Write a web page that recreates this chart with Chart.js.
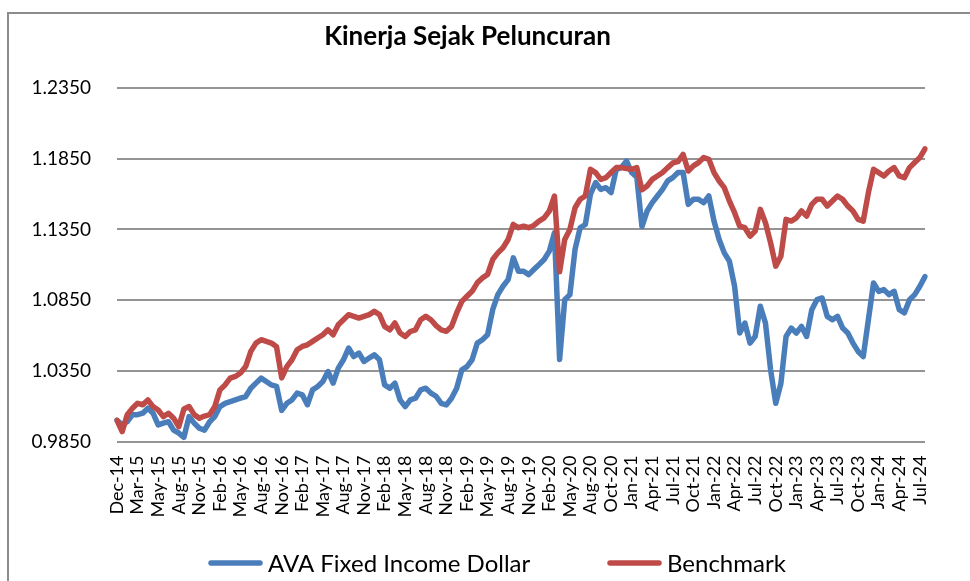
<!DOCTYPE html>
<html><head><meta charset="utf-8">
<script src="https://cdn.jsdelivr.net/npm/chart.js@4.4.1/dist/chart.umd.min.js"></script>
<style>html,body{margin:0;padding:0;background:#fff;overflow:hidden}#wrap{position:relative;width:970px;height:581px}</style>
</head><body><div id="wrap"><canvas id="c"></canvas></div>
<script>
const tickLabels = ['Dec-14','Mar-15','May-15','Aug-15','Nov-15','Feb-16','May-16','Aug-16','Nov-16','Feb-17',
  'May-17','Aug-17','Nov-17','Feb-18','May-18','Aug-18','Nov-18','Feb-19','May-19','Aug-19',
  'Nov-19','Feb-20','May-20','Aug-20','Oct-20','Jan-21','Apr-21','Jul-21','Oct-21','Jan-22',
  'Apr-22','Jul-22','Oct-22','Jan-23','Apr-23','Jul-23','Oct-23','Jan-24','Apr-24','Jul-24'];

const fundValues = [
  1.000,0.997,0.999,1.004,1.004,1.005,1.0085,1.005,0.9967,0.998,
  0.999,0.993,0.991,0.988,1.0026,0.998,0.9944,0.993,0.999,1.0026,
  1.0097,1.012,1.0132,1.0144,1.0156,1.0168,1.0227,1.0263,1.0298,1.0274,
  1.025,1.024,1.007,1.012,1.0144,1.0192,1.018,1.011,1.0215,1.0239,
  1.0274,1.0345,1.0263,1.0369,1.0428,1.0511,1.0451,1.0475,1.0416,1.044,
  1.0463,1.0428,1.025,1.0227,1.0263,1.0144,1.0097,1.0144,1.0156,1.0215,
  1.0227,1.0192,1.017,1.012,1.0109,1.0156,1.0227,1.0357,1.038,1.0428,
  1.0546,1.057,1.0605,1.0782,1.0889,1.0948,1.0995,1.1149,1.1054,1.1054,
  1.103,1.1066,1.1101,1.1137,1.1196,1.1326,1.043,1.0853,1.0889,1.1208,
  1.1362,1.1385,1.160,1.1681,1.1633,1.1645,1.161,1.1775,1.1787,1.1834,
  1.1752,1.172,1.137,1.148,1.1539,1.1586,1.1633,1.1693,1.1716,1.1752,
  1.1752,1.1527,1.1563,1.1563,1.1539,1.1586,1.1409,1.1279,1.1184,1.1125,
  1.0948,1.0617,1.0688,1.0546,1.0593,1.0806,1.0688,1.0357,1.012,1.026,
  1.0593,1.0652,1.0617,1.0664,1.0593,1.0782,1.0853,1.0865,1.0735,1.0711,
  1.0735,1.0652,1.0617,1.0546,1.0487,1.0451,1.0711,1.0971,1.0912,1.0924,
  1.0889,1.0912,1.0782,1.076,1.0853,1.0889,1.0948,1.1016];

const benchmarkValues = [
  1.000,0.992,1.004,1.0085,1.012,1.011,1.0144,1.0097,1.0073,1.0026,
  1.005,1.0015,0.9955,1.008,1.0097,1.004,1.0015,1.003,1.004,1.0097,
  1.0215,1.025,1.0298,1.031,1.0334,1.038,1.0487,1.0546,1.057,1.0558,
  1.0546,1.052,1.030,1.038,1.0428,1.0499,1.0522,1.0534,1.0558,1.0582,
  1.0605,1.064,1.0605,1.0676,1.0711,1.0747,1.0735,1.0723,1.0735,1.0747,
  1.077,1.0747,1.0664,1.064,1.0688,1.0617,1.0593,1.0628,1.064,1.0711,
  1.0735,1.0711,1.067,1.064,1.0629,1.0664,1.0759,1.0841,1.0877,1.0912,
  1.0972,1.1007,1.1031,1.1137,1.1184,1.122,1.1279,1.1385,1.1362,1.1373,
  1.1362,1.1378,1.1409,1.1432,1.148,1.1586,1.105,1.1279,1.135,1.1503,
  1.1563,1.1586,1.1775,1.1752,1.1704,1.1716,1.1752,1.1787,1.1787,1.178,
  1.1775,1.1787,1.163,1.1657,1.1704,1.1728,1.1752,1.1787,1.182,1.183,
  1.188,1.1763,1.1799,1.1822,1.1858,1.1846,1.1752,1.1692,1.1645,1.155,
  1.1468,1.1373,1.1362,1.1302,1.1338,1.1492,1.1397,1.1255,1.109,1.116,
  1.1421,1.1409,1.1432,1.148,1.1444,1.1527,1.1563,1.1563,1.1515,1.1551,
  1.1586,1.1563,1.1515,1.148,1.1421,1.1409,1.161,1.1775,1.1752,1.1728,
  1.1763,1.1787,1.1728,1.1716,1.1787,1.1823,1.1858,1.192];

const yTicks = [0.985, 1.035, 1.085, 1.135, 1.185, 1.235];
const seriesNames = ['AVA Fixed Income Dollar', 'Benchmark'];
const seriesColors = ['#4A7EBB', '#BE4B48'];
const chartTitle = 'Kinerja Sejak Peluncuran';

const POINTS_PER_LABEL = 4;
const categories = fundValues.map((_, i) =>
  i % POINTS_PER_LABEL === 0 ? (tickLabels[i / POINTS_PER_LABEL] || '') : '');

const FONT = 'Lato';

const framePlugin = {
  id: 'frame',
  beforeDraw(chart) {
    const ctx = chart.ctx;
    ctx.save();
    ctx.fillStyle = '#fff';
    ctx.fillRect(0, 0, chart.width, chart.height);
    ctx.strokeStyle = '#8c8c8c';
    ctx.lineWidth = 2;
    ctx.strokeRect(8, 13, chart.width + 20, chart.height + 20);
    ctx.restore();
  }
};

const lineLegendPlugin = {
  id: 'lineLegend',
  afterDraw(chart, args, opts) {
    const ctx = chart.ctx;
    ctx.save();
    ctx.font = opts.fontSize + 'px ' + FONT;
    ctx.textBaseline = 'middle';
    chart.data.datasets.forEach((ds, i) => {
      const x = opts.starts[i];
      ctx.strokeStyle = ds.borderColor;
      ctx.lineWidth = 5.5;
      ctx.lineCap = 'round';
      ctx.beginPath();
      ctx.moveTo(x + 3, opts.y);
      ctx.lineTo(x + opts.swatch - 3, opts.y);
      ctx.stroke();
      ctx.fillStyle = '#000';
      ctx.fillText(ds.label, x + opts.swatch + 5, opts.y + 1);
    });
    ctx.restore();
  }
};

new Chart(document.getElementById('c'), {
  type: 'line',
  data: {
    labels: categories,
    datasets: [
      { label: seriesNames[0], data: fundValues, borderColor: seriesColors[0], backgroundColor: seriesColors[0], order: 1 },
      { label: seriesNames[1], data: benchmarkValues, borderColor: seriesColors[1], backgroundColor: seriesColors[1], order: 0 }
    ]
  },
  options: {
    responsive: true,
    maintainAspectRatio: false,
    animation: false,
    layout: { padding: { left: 10, right: 45, top: 0, bottom: 0 } },
    elements: {
      point: { radius: 0, hoverRadius: 0 },
      line: { borderWidth: 5.5, tension: 0, borderJoinStyle: 'round', borderCapStyle: 'round', fill: false }
    },
    plugins: {
      legend: { display: false },
      tooltip: { enabled: false },
      title: {
        display: true,
        text: chartTitle,
        color: '#000',
        font: { family: FONT, size: 26, weight: 'bold' },
        padding: { top: 21.4, bottom: 35.4 }
      },
      lineLegend: { y: 563, starts: [208, 607], swatch: 55, fontSize: 24 }
    },
    scales: {
      x: {
        type: 'category',
        offset: false,
        grid: { display: false, drawTicks: false },
        border: { display: false },
        ticks: {
          autoSkip: false, maxRotation: 90, minRotation: 90, padding: 14,
          color: '#000', font: { family: FONT, size: 18 }
        },
        afterFit(scale) { scale.height = 139.5; }
      },
      y: {
        min: yTicks[0],
        max: yTicks[yTicks.length - 1],
        grid: { color: '#949494', lineWidth: 2, drawTicks: false },
        border: { display: false },
        ticks: {
          padding: 26, color: '#000', font: { family: FONT, size: 19 },
          callback: v => Number(v).toFixed(4)
        },
        afterBuildTicks(scale) { scale.ticks = yTicks.map(v => ({ value: v })); },
        afterFit(scale) { scale.width = 107; }
      }
    }
  },
  plugins: [framePlugin, lineLegendPlugin]
});
</script></body></html>
